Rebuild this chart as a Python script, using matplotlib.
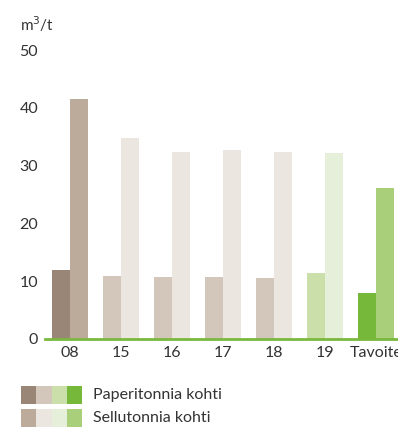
import matplotlib.pyplot as plt
from matplotlib.patches import Rectangle

# Vedenkulutus, m3/t
vuodet = ["08", "15", "16", "17", "18", "19", "Tavoite"]
paperi = [12.0, 10.9, 10.7, 10.7, 10.6, 11.4, 8.0]
sellu = [41.5, 34.8, 32.4, 32.7, 32.4, 32.2, 26.1]

paperi_varit = ["#9a8676", "#d3c6bb", "#d3c6bb", "#d3c6bb", "#d3c6bb", "#cadfaa", "#76b83a"]
sellu_varit = ["#bcaa9b", "#ebe6e0", "#ebe6e0", "#ebe6e0", "#ebe6e0", "#e5efd9", "#a9cf7b"]
legend_paperi = ["#9a8676", "#d3c6bb", "#cadfaa", "#76b83a"]
legend_sellu = ["#bcaa9b", "#ebe6e0", "#e5efd9", "#a9cf7b"]

plt.rcParams['font.family'] = ['Lato', 'DejaVu Sans']
teksti = "#333333"

W, H = 398, 430
fig = plt.figure(figsize=(W / 100, H / 100), dpi=100)
ax = fig.add_axes([45 / W, (H - 339) / H, (W - 45) / W, 289 / H])

leveys = 0.35
x = list(range(len(vuodet)))
ax.bar([i - leveys / 2 for i in x], paperi, width=leveys, color=paperi_varit)
ax.bar([i + leveys / 2 for i in x], sellu, width=leveys, color=sellu_varit)

ax.set_xlim(-0.49, 6.43)
ax.set_ylim(0, 50)
ax.set_yticks([0, 10, 20, 30, 40, 50])
ax.set_xticks(x)
ax.set_xticklabels(vuodet)
ax.tick_params(length=0, labelsize=11.5, colors=teksti)
ax.tick_params(axis='y', pad=5)
ax.tick_params(axis='x', pad=5)
for s in ["top", "right", "left"]:
    ax.spines[s].set_visible(False)
ax.spines["bottom"].set_color("#7ab83e")
ax.spines["bottom"].set_linewidth(2)

fig.text(20 / W, 1 - 24 / H, "m$^3$/t", fontsize=11, color=teksti, va="center")

# selite
for rivi, (varit, nimi, y0) in enumerate([(legend_paperi, "Paperitonnia kohti", 386),
                                           (legend_sellu, "Sellutonnia kohti", 409)]):
    for j, c in enumerate(varit):
        fig.add_artist(Rectangle(((21 + j * 15.25) / W, 1 - (y0 + 18) / H), 15.25 / W, 18 / H,
                                 transform=fig.transFigure, color=c, lw=0))
    fig.text(93 / W, 1 - (y0 + 9) / H, nimi, fontsize=11.5, color=teksti, va="center")

fig.savefig("out.png", dpi=100)
